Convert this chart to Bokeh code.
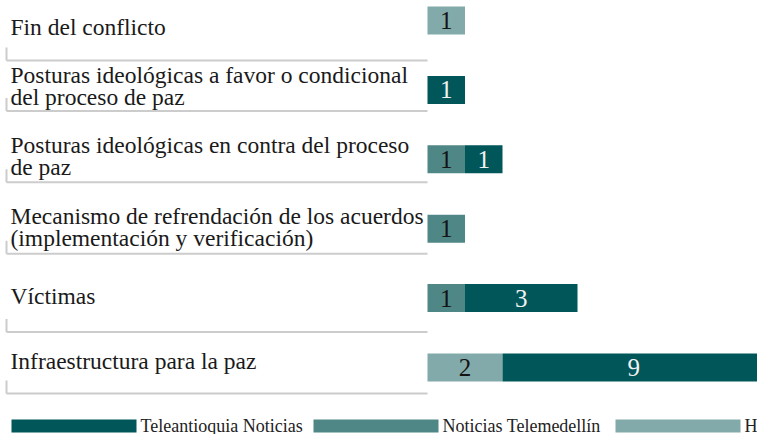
import numpy as np
from bokeh.plotting import figure
from bokeh.models import Range1d, ColumnDataSource
from bokeh.embed import file_html
from bokeh.resources import INLINE
from bokeh.core.properties import value

# ---------------- data ----------------
categories = [
    "Fin del conflicto",
    "Posturas ideológicas a favor o condicional\ndel proceso de paz",
    "Posturas ideológicas en contra del proceso\nde paz",
    "Mecanismo de refrendación de los acuerdos\n(implementación y verificación)",
    "Víctimas",
    "Infraestructura para la paz",
]
# stacking order, left to right
series_names = ["Hora 13 Noticias", "Noticias Telemedellín", "Teleantioquia Noticias"]
hora13 = [1, 0, 0, 0, 0, 2]
telemedellin = [0, 0, 1, 1, 1, 0]
teleantioquia = [0, 1, 1, 0, 3, 9]
legend_order = ["Teleantioquia Noticias", "Noticias Telemedellín", "Hora 13 Noticias"]
axis_max = 9

# ---------------- style / layout ----------------
colors = {
    "Teleantioquia Noticias": "#01565a",
    "Noticias Telemedellín": "#4f8786",
    "Hora 13 Noticias": "#83aaaa",
}
num_colors = {
    "Teleantioquia Noticias": "#f2f2f2",
    "Noticias Telemedellín": "#141414",
    "Hora 13 Noticias": "#141414",
}
FONT = value("Liberation Serif")
W, H = 757, 434
PXU = 37.5          # px per unit (x)
ROW = 69.4          # px per row
X0 = 427            # px of value 0
R0 = 20             # px of first row centre
BAR_H = 28
LINE_H = 22
label_dy = [6, -15, -14, -13, -2, -7]  # first-line centre offset from bar centre (px)
rule_dy = [40, 21, 23, 25, 34, 26]     # grey rule offset from bar centre (px)

def xd(px):
    return (px - X0) / PXU

def yd(px):
    return (px - R0) / ROW

p = figure(width=W, height=H, output_backend="svg", toolbar_location=None,
           x_range=Range1d(xd(0), xd(W)), y_range=Range1d(yd(H), yd(0)),
           x_axis_location=None, y_axis_location=None, min_border=0,
           outline_line_color=None, background_fill_color="white")
p.grid.visible = False

rows = np.arange(len(categories))
vals = {"Hora 13 Noticias": np.array(hora13, float),
        "Noticias Telemedellín": np.array(telemedellin, float),
        "Teleantioquia Noticias": np.array(teleantioquia, float)}

# bars
left = np.zeros(len(categories))
for name in series_names:
    v = vals[name]
    right = left + v
    m = v > 0
    src = ColumnDataSource(dict(y=rows[m], left=left[m], right=right[m]))
    p.hbar(y="y", left="left", right="right", height=BAR_H / ROW, source=src,
           fill_color=colors[name], line_color=None)
    vis_r = np.minimum(right[m], axis_max)
    tsrc = ColumnDataSource(dict(x=(left[m] + vis_r) / 2, y=rows[m],
                                 t=[str(int(a)) for a in v[m]]))
    p.text(x="x", y="y", text="t", source=tsrc, text_font=FONT,
           text_font_size="25px", text_align="center", text_baseline="middle",
           text_color=num_colors[name])
    left = right

# category labels
lx, ly, lt, lo = [], [], [], []
for i, cat in enumerate(categories):
    for k, line in enumerate(cat.split("\n")):
        lx.append(xd(10)); ly.append(i); lt.append(line)
        lo.append(label_dy[i] + k * LINE_H)
p.text(x="x", y="y", text="t", y_offset="o",
       source=ColumnDataSource(dict(x=lx, y=ly, t=lt, o=lo)),
       text_font=FONT, text_font_size="23.5px", text_align="left",
       text_baseline="middle", text_color="#1a1a1a")

# grey rules with left tick
ry = rows + np.array(rule_dy) / ROW
p.segment(x0=[xd(6)] * len(rows), x1=[0] * len(rows), y0=ry, y1=ry,
          line_color="#cccccc", line_width=2)
p.segment(x0=[xd(6)] * len(rows), x1=[xd(6)] * len(rows),
          y0=ry - 13 / ROW, y1=ry, line_color="#cccccc", line_width=2)

# legend
lg_x0, lg_step, sw_w, sw_h, gap = 11, 302, 125, 13, 4
n = len(legend_order)
sx = [xd(lg_x0 + j * lg_step + sw_w / 2) for j in range(n)]
tx = [xd(lg_x0 + j * lg_step + sw_w + gap) for j in range(n)]
p.rect(x=sx, y=[yd(425.5)] * n, width=sw_w, height=sw_h, width_units="screen",
       height_units="screen", fill_color=[colors[k] for k in legend_order], line_color=None)
p.text(x=tx, y=[yd(425)] * n, text=legend_order, text_font=FONT,
       text_font_size="18px", text_align="left", text_baseline="middle",
       text_color="#222222")

open("out.html", "w").write(file_html(p, INLINE))
